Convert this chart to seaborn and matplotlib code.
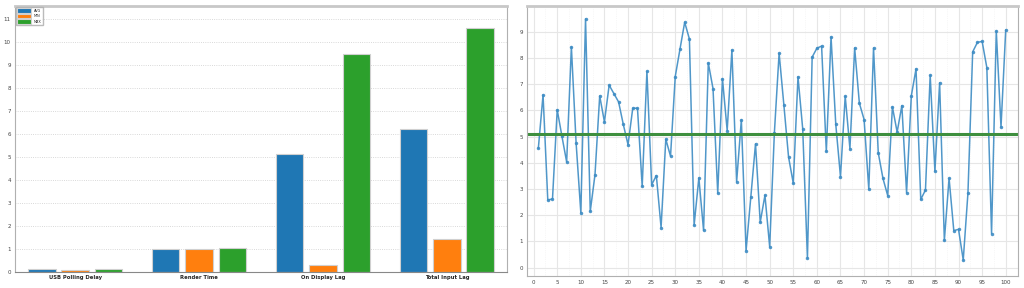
import numpy as np
import pandas as pd
import seaborn as sns
import matplotlib.pyplot as plt

# bar data
categories = ['USB Polling Delay', 'Render Time', 'On Display Lag', 'Total Input Lag']
stats = ['AVG', 'MIN', 'MAX']
avg_vals = [0.12, 1.00, 5.11, 6.23]
min_vals = [0.09, 1.00, 0.30, 1.42]
max_vals = [0.14, 1.03, 9.48, 10.58]

# frame samples (ms)
sample_idx = list(range(1, 101))
sample_vals = [4.55, 6.59, 2.58, 2.62, 6.02, 5.01, 4.03, 8.42, 4.76, 2.10,
               9.49, 2.15, 3.54, 6.55, 5.56, 6.96, 6.64, 6.32, 5.46, 4.69,
               6.08, 6.08, 3.10, 7.49, 3.16, 3.51, 1.53, 4.90, 4.25, 7.29,
               8.33, 9.36, 8.72, 1.62, 3.42, 1.42, 7.81, 6.83, 2.84, 7.21,
               5.23, 8.30, 3.27, 5.64, 0.65, 2.68, 4.72, 1.73, 2.76, 0.80,
               5.15, 8.18, 6.22, 4.22, 3.22, 7.28, 5.29, 0.36, 8.03, 8.37,
               8.45, 4.43, 8.80, 5.47, 3.47, 6.54, 4.54, 8.38, 6.27, 5.65,
               2.98, 8.38, 4.38, 3.40, 2.75, 6.13, 5.17, 6.18, 2.86, 6.55,
               7.58, 2.60, 2.96, 7.34, 3.68, 7.05, 1.04, 3.41, 1.41, 1.46,
               0.29, 2.85, 8.23, 8.59, 8.63, 7.63, 1.30, 9.03, 5.36, 9.07]

sns.set_style('white')
plt.rcParams['font.family'] = ['DejaVu Sans']

bars = pd.DataFrame({
    'category': categories * 3,
    'stat': [s for s in stats for _ in categories],
    'value': avg_vals + min_vals + max_vals,
})
samples = pd.DataFrame({'frame': sample_idx, 'lag': sample_vals})

fig = plt.figure(figsize=(10.24, 2.88), dpi=100)
ax1 = fig.add_axes([15 / 1024, 16 / 288, 492 / 1024, 266 / 288])
ax2 = fig.add_axes([527 / 1024, 12 / 288, 491 / 1024, 270 / 288])

my_cols = ['#1f77b4', '#ff7f0e', '#2ca02c']
sns.barplot(ax=ax1, data=bars, x='category', y='value', hue='stat', palette=my_cols,
            width=0.8, gap=0.18, edgecolor='#d0d0d0', linewidth=0.8, saturation=1)
ax1.set_xlim(-0.484, 3.484)
ax1.set_ylim(0, 11.55)
ax1.set_yticks(range(0, 12))
ax1.set_xlabel('')
ax1.set_ylabel('')
ax1.tick_params(axis='y', labelsize=4, length=2, width=0.5, pad=1, colors='#444444')
ax1.tick_params(axis='x', labelsize=3.8, length=0, pad=2)
for lbl in ax1.get_xticklabels():
    lbl.set_fontweight('bold')
ax1.yaxis.grid(True, linestyle=':', color='#cccccc', linewidth=0.6)
ax1.set_axisbelow(True)
ax1.legend(loc='upper left', fontsize=2.5, frameon=True, edgecolor='#aaaaaa',
           handlelength=4, handleheight=1.6, borderpad=0.4, labelspacing=0.3,
           borderaxespad=0.3)

sns.lineplot(ax=ax2, data=samples, x='frame', y='lag', color='#3d8cc4', marker='o',
             markersize=2.5, markeredgewidth=0, linewidth=1.1, alpha=0.9)
ax2.axhline(avg_vals[2], color='#3e8f3e', linewidth=2.2)
ax2.set_xlim(-1.4, 102.6)
ax2.set_ylim(-0.32, 9.98)
ax2.set_xticks(range(0, 101, 5))
ax2.set_yticks(range(0, 10))
ax2.set_xticks(np.arange(0, 101, 2.5), minor=True)
ax2.set_xlabel('')
ax2.set_ylabel('')
ax2.tick_params(axis='both', labelsize=4, length=2, width=0.5, pad=1, colors='#444444')
ax2.tick_params(which='minor', length=0)
ax2.grid(True, which='major', color='#e6e6e6', linewidth=0.8)
ax2.grid(True, which='minor', axis='x', linestyle=':', color='#f0f0f0', linewidth=0.5)
ax2.set_axisbelow(True)

for ax in (ax1, ax2):
    for side in ['left', 'right', 'bottom']:
        ax.spines[side].set_color('#b0b0b0')
        ax.spines[side].set_linewidth(0.8)
    ax.spines['top'].set_color('#c8c8c8')
    ax.spines['top'].set_linewidth(2)
ax1.spines['bottom'].set_color('#888888')

plt.savefig('out.png', dpi=100)
